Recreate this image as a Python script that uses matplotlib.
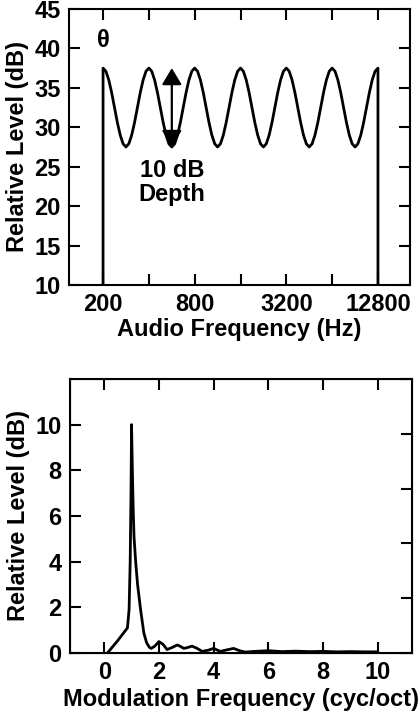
import numpy as np
import matplotlib
matplotlib.use('Agg')
import matplotlib.pyplot as plt

# top panel: rippled spectrum, sampled every 1/16 octave from 200 Hz to 12800 Hz
ripple_level = [
    37.5, 37.1, 36.0, 34.4, 32.5, 30.6, 29.0, 27.9, 27.5, 27.9, 29.0, 30.6, 32.5, 34.4, 36.0, 37.1,
    37.5, 37.1, 36.0, 34.4, 32.5, 30.6, 29.0, 27.9, 27.5, 27.9, 29.0, 30.6, 32.5, 34.4, 36.0, 37.1,
    37.5, 37.1, 36.0, 34.4, 32.5, 30.6, 29.0, 27.9, 27.5, 27.9, 29.0, 30.6, 32.5, 34.4, 36.0, 37.1,
    37.5, 37.1, 36.0, 34.4, 32.5, 30.6, 29.0, 27.9, 27.5, 27.9, 29.0, 30.6, 32.5, 34.4, 36.0, 37.1,
    37.5, 37.1, 36.0, 34.4, 32.5, 30.6, 29.0, 27.9, 27.5, 27.9, 29.0, 30.6, 32.5, 34.4, 36.0, 37.1,
    37.5, 37.1, 36.0, 34.4, 32.5, 30.6, 29.0, 27.9, 27.5, 27.9, 29.0, 30.6, 32.5, 34.4, 36.0, 37.1,
    37.5,
]
ripple_freq = 200 * 2 ** (np.arange(len(ripple_level)) / 16)
floor_level = 10
audio_ticks = [200, 400, 800, 1600, 3200, 6400, 12800]
audio_labels = ['200', '', '800', '', '3200', '', '12800']
arrow_freq = 566
arrow_low, arrow_high = 27.5, 37.5

# bottom panel: modulation spectrum
mod_freq = [0.12, 0.5, 0.85, 0.91, 0.95, 0.98, 1.0, 1.03, 1.06, 1.09, 1.15,
            1.22, 1.33, 1.45, 1.55, 1.65, 1.72, 1.85, 2.0, 2.15, 2.3, 2.5,
            2.67, 2.8, 2.91, 3.05, 3.21, 3.4, 3.58, 3.8, 4.0, 4.24, 4.5,
            4.73, 4.95, 5.15, 5.5, 6.0, 6.5, 7.0, 7.5, 8.0, 8.5, 9.0, 9.5, 10.0]
mod_level = [0.0, 0.55, 1.1, 1.9, 4.0, 7.0, 10.0, 8.0, 6.3, 5.1, 4.0,
             3.0, 1.9, 0.87, 0.45, 0.25, 0.2, 0.3, 0.5, 0.38, 0.15, 0.25,
             0.35, 0.28, 0.2, 0.24, 0.3, 0.2, 0.07, 0.12, 0.2, 0.07, 0.14,
             0.2, 0.1, 0.04, 0.07, 0.1, 0.06, 0.08, 0.06, 0.07, 0.05, 0.06, 0.05, 0.05]

plt.rcParams['font.family'] = ['Liberation Sans', 'DejaVu Sans']
plt.rcParams['font.weight'] = 'bold'
plt.rcParams['axes.labelweight'] = 'bold'
FS = 17
plt.rcParams['font.size'] = FS

fig = plt.figure(figsize=(4.2, 7.11), dpi=100)

def style_axes(ax):
    for s in ax.spines.values():
        s.set_linewidth(1.5)
    ax.tick_params(direction='in', length=8, width=1.5, top=True, right=True,
                   pad=6, labelsize=FS)
    ax.tick_params(which='minor', length=0)

# ---- top panel
ax1 = fig.add_axes([0.1643, 0.5992, 0.812, 0.3882])
x = np.concatenate([[ripple_freq[0]], ripple_freq, [ripple_freq[-1]]])
y = np.concatenate([[floor_level], ripple_level, [floor_level]])
ax1.plot(x, y, color='black', lw=2.0)
ax1.set_xscale('log', base=2)
ax1.set_xlim(119.5, 20800)
ax1.set_ylim(10, 45)
ax1.set_xticks(audio_ticks)
ax1.set_xticklabels(audio_labels)
ax1.set_yticks(np.arange(10, 46, 5))
ax1.set_xlabel('Audio Frequency (Hz)', labelpad=1)
ax1.set_ylabel('Relative Level (dB)', labelpad=4)
style_axes(ax1)
ax1.annotate('', xy=(arrow_freq, arrow_high), xytext=(arrow_freq, arrow_low),
             arrowprops=dict(arrowstyle='<|-|>,head_length=0.5,head_width=0.3',
                             color='black', lw=1.6, mutation_scale=20,
                             shrinkA=0, shrinkB=0))
ax1.text(arrow_freq, 23, '10 dB\nDepth', ha='center', va='center',
         fontsize=FS, linespacing=1.05)
ax1.text(200, 41, 'θ', ha='center', va='center', fontsize=17, fontweight='bold')

# ---- bottom panel
ax2 = fig.add_axes([0.1667, 0.0816, 0.814, 0.3854])
ax2.plot(mod_freq, mod_level, color='black', lw=2.0)
ax2.set_xlim(-1.25, 11.25)
ax2.set_ylim(0, 12)
ax2.set_xticks(np.arange(0, 11, 2))
ax2.set_yticks(np.arange(0, 11, 2))
ax2.set_xlabel('Modulation Frequency (cyc/oct)', labelpad=3)
ax2.set_ylabel('Relative Level (dB)', labelpad=4)
style_axes(ax2)
ax2.tick_params(right=False)
# right-hand ticks in the original are spaced at fifths of the range
ax2r = ax2.twinx()
ax2r.set_ylim(0, 12)
ax2r.set_yticks(np.linspace(0, 12, 6))
ax2r.tick_params(direction='in', length=8, width=1.5, labelright=False)

fig.savefig('out.png', dpi=100)
